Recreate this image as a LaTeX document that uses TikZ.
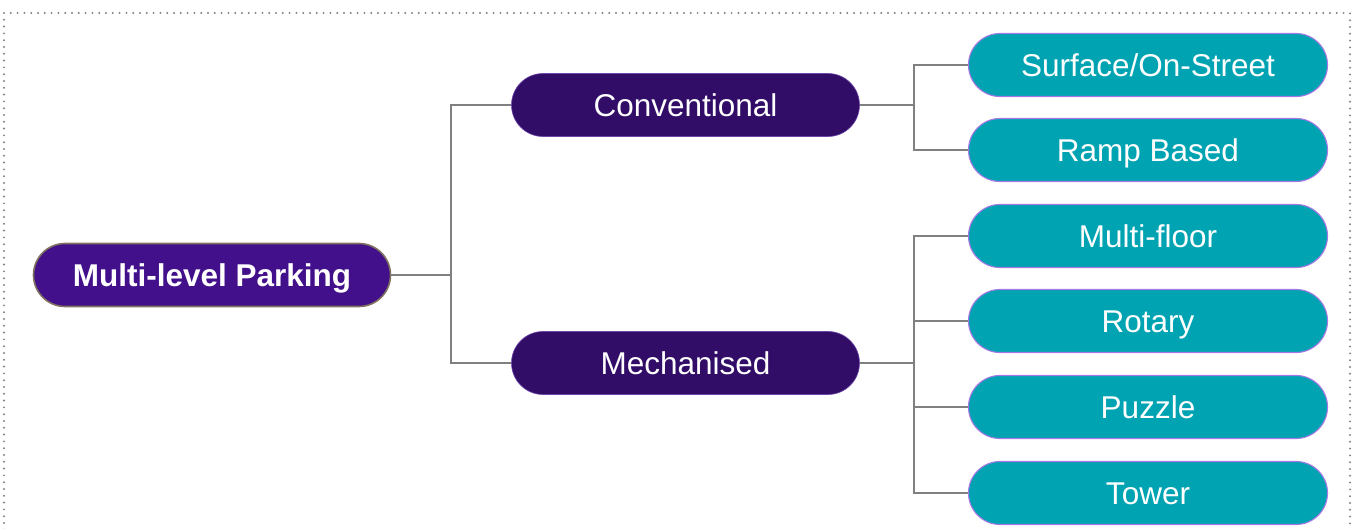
\documentclass[tikz,border=0pt]{standalone}
\usepackage{fontspec}
\setmainfont{Liberation Sans}
\begin{document}
\begin{tikzpicture}[x=1pt,y=-1pt,
  pill/.style={rectangle, rounded corners=31.5pt, minimum height=63pt, inner sep=0pt,
    text height=22.6pt, text depth=0pt,
    text=white, font=\fontsize{31.5}{36}\selectfont},
  rootbox/.style={pill, minimum width=357pt, fill={rgb,255:red,66;green,16;blue,138},
    draw={rgb,255:red,128;green,114;blue,96}, line width=1.6pt, font=\fontsize{31.5}{36}\selectfont\bfseries},
  midbox/.style={pill, minimum width=348pt, fill={rgb,255:red,50;green,13;blue,104},
    draw={rgb,255:red,110;green,70;blue,170}, line width=0.6pt},
  leafbox/.style={pill, minimum width=359pt, fill={rgb,255:red,0;green,163;blue,178},
    draw={rgb,255:red,165;green,120;blue,230}, line width=1.1pt},
  link/.style={draw={rgb,255:red,128;green,128;blue,128}, line width=1.8pt},
  frame/.style={draw={rgb,255:red,130;green,130;blue,130}, line width=2.2pt,
    line cap=round, dash pattern=on 0pt off 6.8pt}
]
\useasboundingbox (0,0) rectangle (1353,529);
% dotted outer frame (its lower edge runs below the page)
\draw[frame] (4,13) -- (1350,13) -- (1350,545) (4,13) -- (4,545);

% nodes
\node[rootbox] (root) at (212,275) {Multi-level Parking};
\node[midbox] (conv) at (685.5,105) {Conventional};
\node[midbox] (mech) at (685.5,363) {Mechanised};
\node[leafbox] (surf) at (1148,65) {Surface/On-Street};
\node[leafbox] (ramp) at (1148,150) {Ramp Based};
\node[leafbox] (mfl) at (1148,236) {Multi-floor};
\node[leafbox] (rot) at (1148,321) {Rotary};
\node[leafbox] (puz) at (1148,407) {Puzzle};
\node[leafbox] (tow) at (1148,493) {Tower};

% elbow connectors
\coordinate (rj) at (451,275);
\coordinate (cj) at (914,105);
\coordinate (mj) at (914,363);
\draw[link] (root.east) -- (rj);
\draw[link] (rj) |- (conv.west);
\draw[link] (rj) |- (mech.west);
\draw[link] (conv.east) -- (cj);
\draw[link] (cj) |- (surf.west);
\draw[link] (cj) |- (ramp.west);
\draw[link] (mech.east) -- (mj);
\draw[link] (mj) |- (mfl.west);
\draw[link] (mj) |- (rot.west);
\draw[link] (mj) |- (puz.west);
\draw[link] (mj) |- (tow.west);
\end{tikzpicture}
\end{document}
